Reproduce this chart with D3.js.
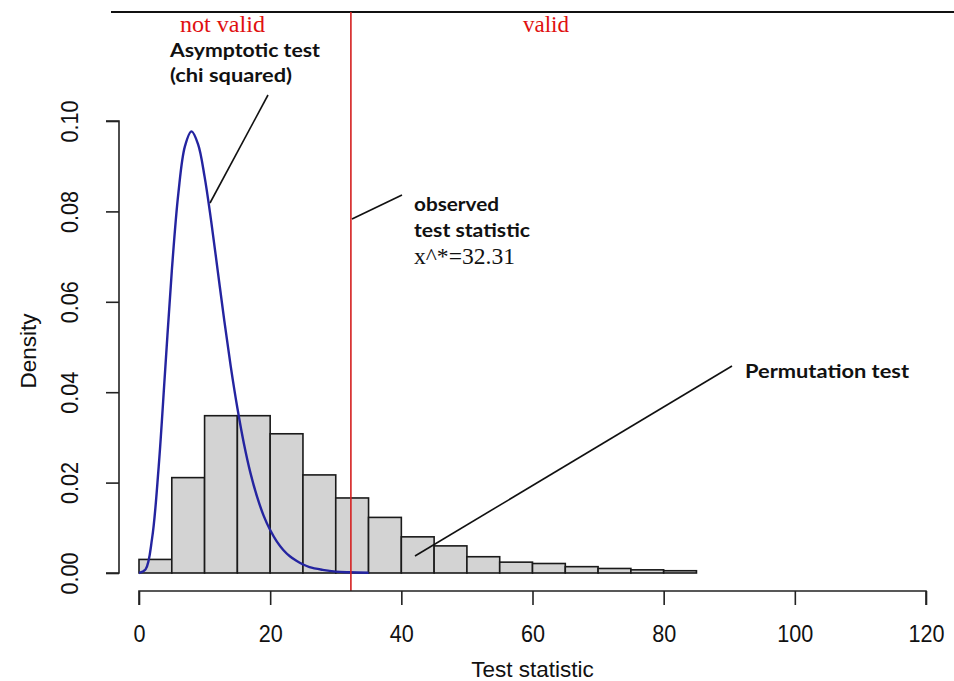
<!DOCTYPE html>
<html><head><meta charset="utf-8">
<script src="https://cdn.jsdelivr.net/npm/d3@7/dist/d3.min.js"></script>
<style>html,body{margin:0;padding:0;background:#fff;}svg{display:block;}</style>
</head><body>
<svg id="chart" width="954" height="681"></svg>
<script>
// ---- data ----
const binStarts = [0,5,10,15,20,25,30,35,40,45,50,55,60,65,70,75,80];
const binWidth = 5;
const densities = [0.0030,0.0211,0.0348,0.0348,0.0308,0.0217,0.0166,0.0123,0.0080,0.0060,0.0036,0.0024,0.0021,0.0014,0.0010,0.0007,0.0005];
const curveX = [0,1,2,3,4,5,6,7,8,9,10,11,12,13,14,15,16,17,18,19,20,21,22,23,24,25,26,28,30,32,35];
const curveY = [0,0.0008,0.0077,0.0235,0.0451,0.0668,0.0840,0.0944,0.0977,0.0949,0.0877,0.0779,0.0669,0.0559,0.0456,0.0365,0.0286,0.0221,0.0169,0.0127,0.0095,0.0070,0.0051,0.0037,0.0027,0.0019,0.0013,0.0007,0.0003,0.00015,0.00005];
const observed = 32.31;
const xTicks = [0,20,40,60,80,100,120];
const yTicks = [0,0.02,0.04,0.06,0.08,0.10];
const xTitle = "Test statistic";
const yTitle = "Density";

const svg = d3.select("#chart");
const x = d3.scaleLinear().domain([0,120]).range([139,926]);
const y = d3.scaleLinear().domain([0,0.1]).range([573,121]);
const axisY0 = 591, axisX0 = 119;
const sans = "'Liberation Sans', Arial, sans-serif";

// top border line
svg.append("line").attr("x1",111).attr("x2",954).attr("y1",12).attr("y2",12)
  .attr("stroke","#111").attr("stroke-width",2);

// histogram
svg.append("g").selectAll("rect").data(binStarts).join("rect")
  .attr("x", d=>x(d)).attr("width", d=>x(d+binWidth)-x(d))
  .attr("y", (d,i)=>y(densities[i])).attr("height",(d,i)=>y(0)-y(densities[i]))
  .attr("fill","#d3d3d3").attr("stroke","#1a1a1a").attr("stroke-width",1.6);

// chi-squared curve
const pts = curveX.map((v,i)=>[v,curveY[i]]);
svg.append("path").datum(pts)
  .attr("d", d3.line().x(d=>x(d[0])).y(d=>y(d[1])).curve(d3.curveCatmullRom))
  .attr("fill","none").attr("stroke","#2424a0").attr("stroke-width",2.4);

// observed line
svg.append("line").attr("x1",x(observed)).attr("x2",x(observed)).attr("y1",12).attr("y2",axisY0)
  .attr("stroke","#d42020").attr("stroke-width",1.6);

// axes
const xAxis = d3.axisBottom(x).tickValues(xTicks).tickSize(14).tickPadding(20).tickFormat(d3.format("d"));
const gx = svg.append("g").attr("transform",`translate(0,${axisY0})`).call(xAxis);
gx.select(".domain").attr("d", `M${x(0)},14V0H${x(120)}V14`).attr("stroke","#222").attr("stroke-width",1.6);
gx.selectAll(".tick line").attr("stroke","#222").attr("stroke-width",1.6);
gx.selectAll(".tick text").attr("font-family",sans).attr("font-size",24).attr("fill","#111")
  .attr("transform","scale(0.9,1)");

const yAxis = d3.axisLeft(y).tickValues(yTicks).tickSize(13).tickFormat(d3.format(".2f"));
const gy = svg.append("g").attr("transform",`translate(${axisX0},0)`).call(yAxis);
gy.select(".domain").attr("d", `M-13,${y(0.1)}H0V${y(0)}H-13`).attr("stroke","#222").attr("stroke-width",1.6);
gy.selectAll(".tick line").attr("stroke","#222").attr("stroke-width",1.6);
gy.selectAll(".tick text")
  .attr("font-family",sans).attr("font-size",24).attr("fill","#111")
  .attr("text-anchor","middle").attr("dy",null).attr("x",null)
  .attr("transform","translate(-41,0) rotate(-90) scale(0.9,1)");

svg.append("text").attr("x",x(60)).attr("y",677).attr("text-anchor","middle")
  .attr("font-family",sans).attr("font-size",22.5).attr("fill","#111").text(xTitle);
svg.append("text").attr("transform",`translate(36,${(y(0)+y(0.1))/2 + 4}) rotate(-90)`).attr("text-anchor","middle")
  .attr("font-family",sans).attr("font-size",22.5).attr("fill","#111").text(yTitle);

// annotations
const serif = "'Liberation Serif', 'Times New Roman', serif";
const bold = "Lato, 'Open Sans', sans-serif";
function txt(t,xx,yy,fam,size,weight,color,len){
  const e = svg.append("text").attr("x",xx).attr("y",yy).attr("font-family",fam).attr("font-size",size)
    .attr("font-weight",weight).attr("fill",color).text(t);
  if(len) e.attr("textLength",len).attr("lengthAdjust","spacingAndGlyphs");
  return e;
}
txt("not valid",180,32,serif,23,400,"#e01010",85);
txt("valid",523,32,serif,23,400,"#e01010",46);
txt("Asymptotic test",170,57,bold,19.5,700,"#111",150);
txt("(chi squared)",170,82,bold,19.5,700,"#111",122);
txt("observed",414,211,bold,19.5,700,"#111",85);
txt("test statistic",414,237,bold,19.5,700,"#111",116);
txt("x^*=32.31",414,264,serif,24,400,"#111",101);
txt("Permutation test",745,378,bold,19.5,700,"#111",164);

function lead(x1,y1,x2,y2){
  svg.append("line").attr("x1",x1).attr("y1",y1).attr("x2",x2).attr("y2",y2)
    .attr("stroke","#111").attr("stroke-width",1.6);
}
lead(268,95,210,203);
lead(402,195,352,219);
lead(732,366,415,556);
</script>
</body></html>
